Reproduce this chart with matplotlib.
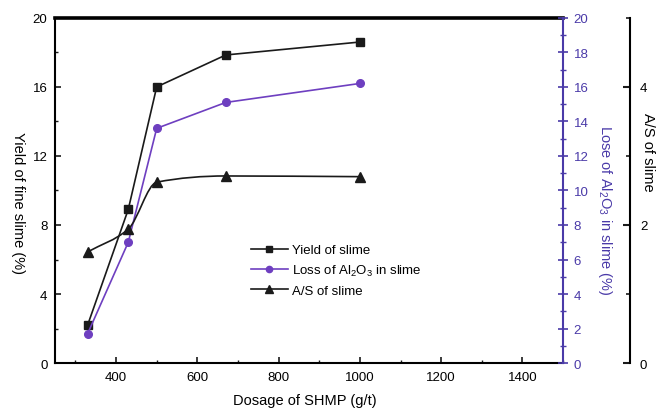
import numpy as np
import matplotlib
matplotlib.use("Agg")
import matplotlib.pyplot as plt
from matplotlib.path import Path
from matplotlib.patches import PathPatch
from matplotlib.lines import Line2D
from matplotlib.ticker import MultipleLocator

OUTPUT_FILE = "out.png"

# data
dosage = [330, 430, 500, 670, 1000]
yield_slime = [2.2, 8.9, 16.0, 17.85, 18.6]
loss_al2o3 = [1.7, 7.0, 13.6, 15.1, 16.2]
as_ratio = [1.61, 1.94, 2.62, 2.71, 2.70]

BLACK = "#1a1a1a"
PURPLE = "#6e3fc0"
AXIS_PURPLE = "#4a3aa8"

plt.rcParams["font.family"] = ["Liberation Sans", "DejaVu Sans"]
plt.rcParams["font.size"] = 9.5


def pchip_path(x, y):
    # smooth monotone curve through the points, drawn as cubic bezier segments
    x = np.asarray(x, float)
    y = np.asarray(y, float)
    h = np.diff(x)
    s = np.diff(y) / h
    m = np.zeros(len(x))
    m[0] = s[0]
    m[-1] = s[-1]
    for k in range(1, len(x) - 1):
        if s[k - 1] * s[k] <= 0:
            m[k] = 0
        else:
            w1 = 2 * h[k] + h[k - 1]
            w2 = h[k] + 2 * h[k - 1]
            m[k] = (w1 + w2) / (w1 / s[k - 1] + w2 / s[k])
    verts = [(x[0], y[0])]
    codes = [Path.MOVETO]
    for k in range(len(x) - 1):
        d = h[k] / 3
        verts += [(x[k] + d, y[k] + m[k] * d),
                  (x[k + 1] - d, y[k + 1] - m[k + 1] * d),
                  (x[k + 1], y[k + 1])]
        codes += [Path.CURVE4] * 3
    return Path(verts, codes)


fig = plt.figure(figsize=(6.64, 4.10), dpi=100)
ax = fig.add_axes([0.083, 0.112, 0.765, 0.842])
ax2 = ax.twinx()
ax3 = ax.twinx()

# main axis: yield
ax.plot(dosage, yield_slime, color=BLACK, lw=1.2, marker="s", ms=5.5)
ax.set_xlim(250, 1500)
ax.set_ylim(0, 20)
ax.xaxis.set_major_locator(MultipleLocator(200))
ax.xaxis.set_minor_locator(MultipleLocator(100))
ax.yaxis.set_major_locator(MultipleLocator(4))
ax.yaxis.set_minor_locator(MultipleLocator(2))
ax.tick_params(which="both", direction="in", color=BLACK)
ax.tick_params(which="major", length=4, width=1.2, pad=5.5)
ax.tick_params(which="minor", length=2.5, width=1)
ax.set_xticks([400, 600, 800, 1000, 1200, 1400])
for side in ["left", "bottom"]:
    ax.spines[side].set_linewidth(1.5)
ax.spines["top"].set_linewidth(2.6)
ax.spines["right"].set_visible(False)
ax.set_xlabel("Dosage of SHMP (g/t)", fontsize=10.5)
ax.xaxis.set_label_coords(0.492, -0.086)
ax.set_ylabel("Yield of fine slime (%)", fontsize=10.5, rotation=-90, va="center", ha="center")
ax.yaxis.set_label_coords(-0.073, 0.467)

# second axis: loss of Al2O3
ax2.plot(dosage, loss_al2o3, color=PURPLE, lw=1.2, marker="o", ms=5.5)
ax2.set_ylim(0, 20)
ax2.yaxis.set_major_locator(MultipleLocator(2))
ax2.yaxis.set_minor_locator(MultipleLocator(1))
ax2.tick_params(which="both", direction="inout", color=AXIS_PURPLE, labelcolor=AXIS_PURPLE)
ax2.tick_params(which="major", length=7, width=1.2, pad=4)
ax2.tick_params(which="minor", length=4, width=1)
for side in ["left", "top", "bottom"]:
    ax2.spines[side].set_visible(False)
ax2.spines["right"].set_color(AXIS_PURPLE)
ax2.spines["right"].set_linewidth(1.5)
ax2.set_ylabel("Lose of Al$_\\mathregular{2}$O$_\\mathregular{3}$ in slime (%)", color=AXIS_PURPLE,
               fontsize=10.5, rotation=-90, va="center", ha="center")
ax2.yaxis.set_label_coords(1.083, 0.446)

# third axis: A/S ratio
ax3.plot(dosage, as_ratio, color=BLACK, ls="none", marker="^", ms=7)
ax3.add_patch(PathPatch(pchip_path(dosage, as_ratio), fill=False, edgecolor=BLACK, lw=1.2))
ax3.set_ylim(0, 5)
ax3.yaxis.set_major_locator(MultipleLocator(2))
ax3.yaxis.set_minor_locator(MultipleLocator(1))
ax3.spines["right"].set_position(("axes", 1.132))
ax3.spines["right"].set_linewidth(1.5)
for side in ["left", "top", "bottom"]:
    ax3.spines[side].set_visible(False)
ax3.tick_params(which="both", direction="in", color=BLACK)
ax3.tick_params(which="major", length=5, width=1.5, pad=7)
ax3.tick_params(which="minor", length=3, width=1.2)
ax3.set_ylabel("A/S of slime", fontsize=10.5, rotation=-90, va="center", ha="center")
ax3.yaxis.set_label_coords(1.167, 0.614)

handles = [
    Line2D([], [], color=BLACK, lw=1.2, marker="s", ms=4.5),
    Line2D([], [], color=PURPLE, lw=1.2, marker="o", ms=4.5),
    Line2D([], [], color=BLACK, lw=1.2, marker="^", ms=6),
]
labels = ["Yield of slime",
          "Loss of Al$_\\mathregular{2}$O$_\\mathregular{3}$ in slime",
          "A/S of slime"]
ax3.legend(handles, labels, loc="upper left", bbox_to_anchor=(0.385, 0.345),
           frameon=False, fontsize=9.5, handlelength=2.8, handletextpad=0.3,
           labelspacing=0.5, borderpad=0, borderaxespad=0)

fig.savefig(OUTPUT_FILE, dpi=100)
plt.close(fig)
